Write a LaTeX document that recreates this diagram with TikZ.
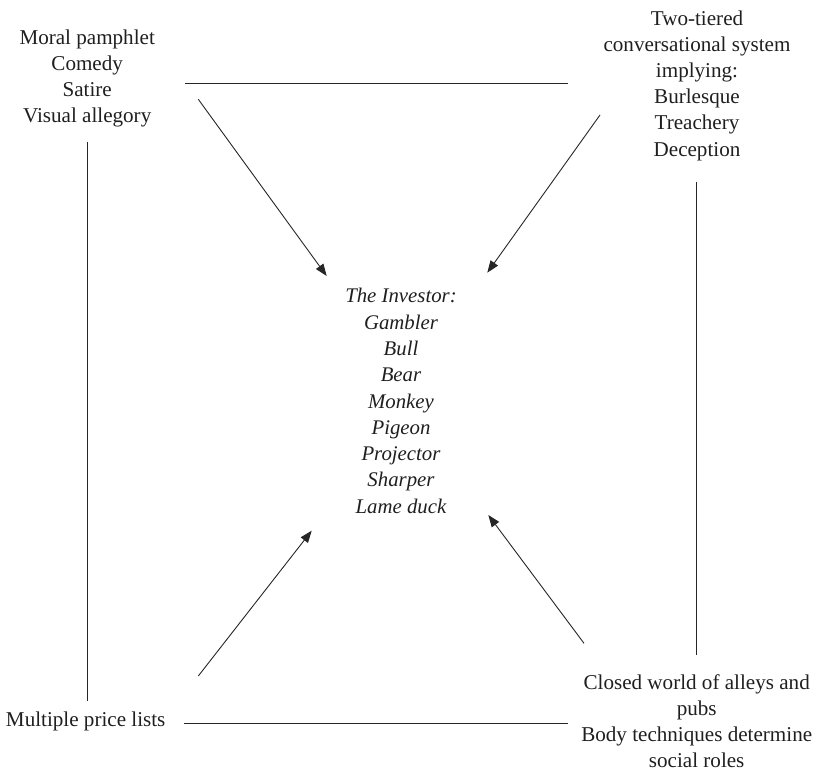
\documentclass[tikz,border=0pt]{standalone}
\usepackage{fontspec}
\setmainfont{Liberation Serif}
\usetikzlibrary{arrows.meta}
\newcommand{\blk}[1]{\begin{tabular}[t]{@{}c@{}}#1\end{tabular}}
\begin{document}
\begin{tikzpicture}[x=1pt,y=-1pt,
  txt/.style={font=\fontsize{21.1}{26.2}\selectfont, text=black!88, inner sep=0pt, anchor=base},
  ctxt/.style={font=\fontsize{20.8}{26.3}\selectfont\itshape, text=black!88, inner sep=0pt, anchor=base},
  ln/.style={line width=0.9pt, draw=black!85},
  arr/.style={ln, -{Triangle[length=12pt,width=9pt]}}]
\useasboundingbox (0,0) rectangle (819,771);

% text blocks (positioned at first baseline)
\node[txt] (tl) at (87.2,44.3) {\blk{Moral pamphlet\\Comedy\\Satire\\Visual allegory}};
\node[txt] (tr) at (697,25) {\blk{Two-tiered\\conversational system\\implying:\\Burlesque\\Treachery\\Deception}};
\node[ctxt] (c) at (401,302.8) {\blk{The Investor:\\Gambler\\Bull\\Bear\\Monkey\\Pigeon\\Projector\\Sharper\\Lame duck}};
\node[txt] (bl) at (85.7,726) {\blk{Multiple price lists}};
\node[txt] (br) at (696.7,689.3) {\blk{Closed world of alleys and\\pubs\\Body techniques determine\\social roles}};

% connector end points
\coordinate (tl-e) at (185,83.3);
\coordinate (tr-w) at (568,83.3);
\coordinate (bl-e) at (184.3,723.5);
\coordinate (br-w) at (568.3,723.5);
\coordinate (tl-s) at (87.3,141.7);
\coordinate (bl-n) at (87.3,701);
\coordinate (tr-s) at (696,181.7);
\coordinate (br-n) at (696,655);
\coordinate (tl-a) at (198.3,99.3);
\coordinate (tr-a) at (600,115);
\coordinate (bl-a) at (198.3,676);
\coordinate (br-a) at (584,643.3);
\coordinate (c-tl) at (326.7,276);
\coordinate (c-tr) at (487.3,272.7);
\coordinate (c-bl) at (311.7,530.7);
\coordinate (c-br) at (488.3,515);

% frame lines
\draw[ln] (tl-e) -- (tr-w);
\draw[ln] (bl-e) -- (br-w);
\draw[ln] (tl-s) -- (bl-n);
\draw[ln] (tr-s) -- (br-n);

% arrows to the centre
\draw[arr] (tl-a) -- (c-tl);
\draw[arr] (tr-a) -- (c-tr);
\draw[arr] (bl-a) -- (c-bl);
\draw[arr] (br-a) -- (c-br);
\end{tikzpicture}
\end{document}
